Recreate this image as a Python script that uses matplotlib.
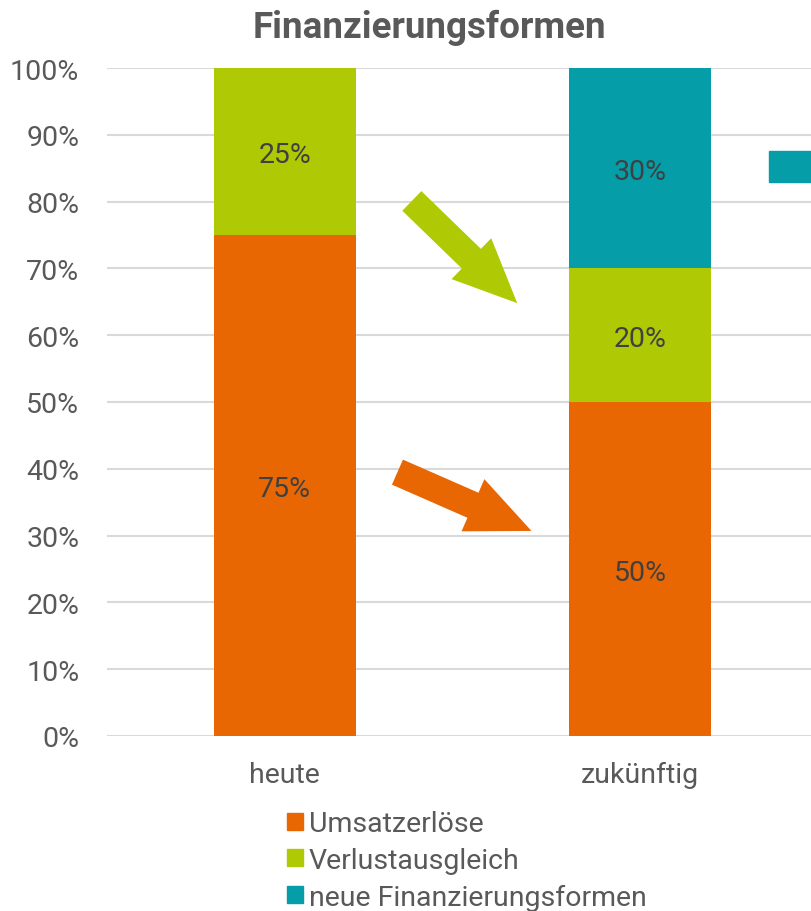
import matplotlib.pyplot as plt
from matplotlib.patches import Patch, Rectangle

plt.rcParams["font.family"] = ["Roboto", "DejaVu Sans"]

categories = ["heute", "zukünftig"]
series = ["Umsatzerlöse", "Verlustausgleich", "neue Finanzierungsformen"]
umsatz = [75, 50]
verlust = [25, 20]
neue = [0, 30]
colors = ["#E96703", "#AFC905", "#049DA8"]
yticks = [0, 10, 20, 30, 40, 50, 60, 70, 80, 90, 100]

fig = plt.figure(figsize=(8.11, 9.12), dpi=100)
ax = fig.add_axes([107 / 811, 175 / 912, 711 / 811, 668 / 912])

x = list(range(len(categories)))
bottom = [0] * len(categories)
for name, vals, col in zip(series, [umsatz, verlust, neue], colors):
    ax.bar(x, vals, width=0.4, bottom=bottom, color=col, zorder=2, label=name)
    for xi, b, v in zip(x, bottom, vals):
        if v > 0:
            ax.text(xi, b + v / 2 - 0.5, f"{v}%", ha="center", va="center",
                    fontsize=20.5, color="#404040", zorder=3)
    bottom = [b + v for b, v in zip(bottom, vals)]

ax.set_xlim(-0.5, 1.5)
ax.set_ylim(0, 100)
ax.set_yticks(yticks)
ax.set_yticklabels([f"{t}%" for t in yticks])
ax.set_xticks(x)
ax.set_xticklabels(categories)
ax.tick_params(axis="both", length=0, labelsize=20.5, labelcolor="#595959")
ax.tick_params(axis="y", pad=20)
ax.tick_params(axis="x", pad=18)
ax.yaxis.grid(True, color="#D9D9D9", linewidth=1.5, zorder=0)
for s in ax.spines.values():
    s.set_visible(False)

# arrows showing the shift between today and the future
for tail, tip, col in [((0.3575, 80.1), (0.654, 64.8), colors[1]),
                       ((0.317, 39.5), (0.694, 30.7), colors[0])]:
    ax.annotate("", xy=tip, xytext=tail,
                arrowprops=dict(arrowstyle="simple,head_length=46,head_width=41,tail_width=19.7",
                                mutation_scale=1, color=col, shrinkA=0, shrinkB=0, lw=0),
                zorder=4)

# teal box cut off at the right edge
ax.add_patch(Rectangle((1.362, 82.9), 0.4, 4.7, color=colors[2], clip_on=False, zorder=2))

handles = [Patch(color=c) for c in colors]
fig.legend(handles, series, loc="upper left", bbox_to_anchor=(273 / 811, 1 - 797 / 912),
           frameon=False, fontsize=20.5, labelcolor="#595959", handlelength=0.55,
           handleheight=0.55, handletextpad=0.2, labelspacing=0.34, borderpad=0)

fig.text(429 / 811, 1 - 28 / 912, "Finanzierungsformen", ha="center", va="center",
         fontsize=26.5, fontweight="bold", color="#595959")

fig.savefig("out.png", dpi=100)
